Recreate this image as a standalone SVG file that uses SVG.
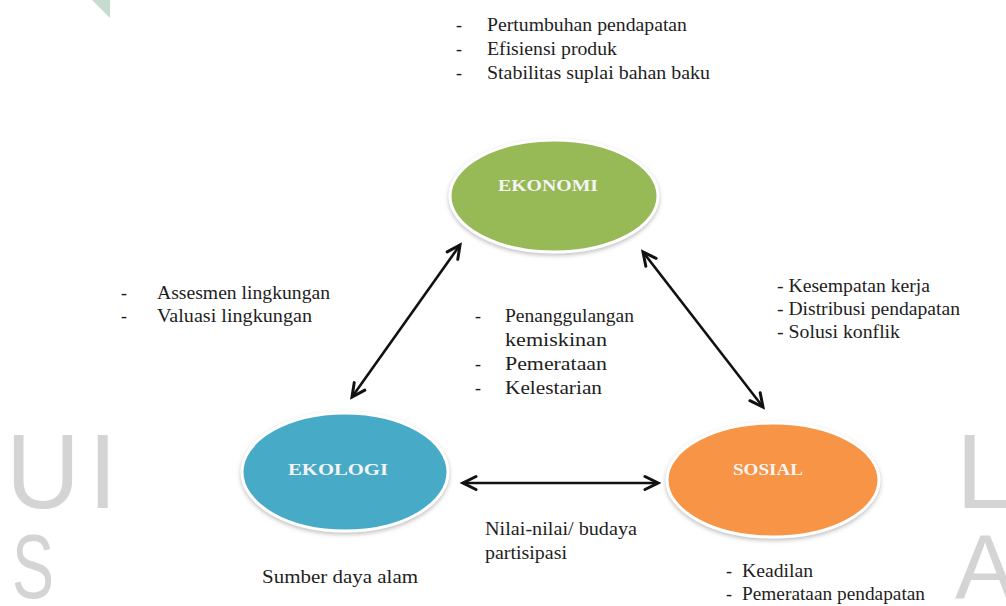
<svg xmlns="http://www.w3.org/2000/svg" width="1006" height="606" viewBox="0 0 1006 606">
  <style>
    .lbl { font-family: "Liberation Serif", "Times New Roman", serif; font-size: 18px; fill: #1e1e1e; }
    .node-text { font-family: "Liberation Serif", "Times New Roman", serif; font-size: 16px; font-weight: bold; fill: #f4f4f4; }
    .wm { font-family: "Liberation Sans", Arial, sans-serif; fill: #d4d4d4; }
    .conn { stroke: #111; stroke-width: 2.6; fill: none; marker-start: url(#arr); marker-end: url(#arr); }
    .ell { stroke: #ffffff; stroke-width: 3; filter: url(#shadow); }
  </style>
  <defs>
    <marker id="arr" markerUnits="userSpaceOnUse" viewBox="-15 -9 18 18" refX="0" refY="0" markerWidth="18" markerHeight="18" orient="auto-start-reverse">
      <path d="M-13,-6.5 L0,0 L-13,6.5" fill="none" stroke="#111" stroke-width="3" stroke-linejoin="miter" stroke-linecap="round"/>
    </marker>
    <filter id="shadow" x="-20%" y="-20%" width="140%" height="140%">
      <feDropShadow dx="0" dy="2" stdDeviation="2" flood-color="#8a8a8a" flood-opacity="0.55"/>
    </filter>
    <clipPath id="leftclip">
      <rect x="0" y="0" width="110" height="606"/>
    </clipPath>
  </defs>

  <rect x="0" y="0" width="1006" height="606" fill="#ffffff"/>

  <!-- watermark -->
  <g id="watermark">
    <polygon points="92,0 110,0 110,18" fill="#c6dccf"/>
    <g clip-path="url(#leftclip)">
      <text class="wm" x="6" y="508" font-size="106" textLength="74" lengthAdjust="spacingAndGlyphs">U</text>
      <text class="wm" x="88" y="508" font-size="106">I</text>
      <text class="wm" x="12" y="598" font-size="90" textLength="42" lengthAdjust="spacingAndGlyphs">S</text>
    </g>
    <text class="wm" x="956" y="508" font-size="106">L</text>
    <text class="wm" x="955" y="598" font-size="90">A</text>
  </g>

  <!-- connectors -->
  <g id="connectors">
    <line class="conn" x1="352" y1="397" x2="460" y2="245"/>
    <line class="conn" x1="643" y1="252" x2="763" y2="407"/>
    <line class="conn" x1="463" y1="483" x2="658" y2="483"/>
  </g>

  <!-- nodes -->
  <g id="node-ekonomi">
    <ellipse class="ell" cx="554" cy="196" rx="104" ry="56" fill="#97b956"/>
    <text class="node-text" x="498" y="191" textLength="100" lengthAdjust="spacingAndGlyphs">EKONOMI</text>
  </g>
  <g id="node-ekologi">
    <ellipse class="ell" cx="345" cy="472" rx="103" ry="59" fill="#47aac6"/>
    <text class="node-text" x="288" y="475" textLength="100" lengthAdjust="spacingAndGlyphs">EKOLOGI</text>
  </g>
  <g id="node-sosial">
    <ellipse class="ell" cx="773" cy="480" rx="106" ry="57" fill="#f79444"/>
    <text class="node-text" x="733" y="475" textLength="70" lengthAdjust="spacingAndGlyphs">SOSIAL</text>
  </g>

  <!-- labels -->
  <g id="label-ekonomi">
    <text class="lbl" x="456" y="31">-</text>
    <text class="lbl" x="487" y="31" textLength="200" lengthAdjust="spacingAndGlyphs">Pertumbuhan pendapatan</text>
    <text class="lbl" x="456" y="55">-</text>
    <text class="lbl" x="487" y="55" textLength="130" lengthAdjust="spacingAndGlyphs">Efisiensi produk</text>
    <text class="lbl" x="456" y="79">-</text>
    <text class="lbl" x="487" y="79" textLength="223" lengthAdjust="spacingAndGlyphs">Stabilitas suplai bahan baku</text>
  </g>
  <g id="label-ekologi-ekonomi">
    <text class="lbl" x="121" y="299">-</text>
    <text class="lbl" x="157" y="299" textLength="173" lengthAdjust="spacingAndGlyphs">Assesmen lingkungan</text>
    <text class="lbl" x="121" y="322">-</text>
    <text class="lbl" x="157" y="322" textLength="155" lengthAdjust="spacingAndGlyphs">Valuasi lingkungan</text>
  </g>
  <g id="label-center">
    <text class="lbl" x="475" y="322">-</text>
    <text class="lbl" x="505" y="322" textLength="129" lengthAdjust="spacingAndGlyphs">Penanggulangan</text>
    <text class="lbl" x="505" y="346" textLength="102" lengthAdjust="spacingAndGlyphs">kemiskinan</text>
    <text class="lbl" x="475" y="370">-</text>
    <text class="lbl" x="505" y="370" textLength="102" lengthAdjust="spacingAndGlyphs">Pemerataan</text>
    <text class="lbl" x="475" y="394">-</text>
    <text class="lbl" x="505" y="394" textLength="97" lengthAdjust="spacingAndGlyphs">Kelestarian</text>
  </g>
  <g id="label-ekonomi-sosial">
    <text class="lbl" x="777" y="292" textLength="153" lengthAdjust="spacingAndGlyphs">- Kesempatan kerja</text>
    <text class="lbl" x="777" y="315" textLength="183" lengthAdjust="spacingAndGlyphs">- Distribusi pendapatan</text>
    <text class="lbl" x="777" y="338" textLength="123" lengthAdjust="spacingAndGlyphs">- Solusi konflik</text>
  </g>
  <g id="label-ekologi">
    <text class="lbl" x="262" y="583" textLength="156" lengthAdjust="spacingAndGlyphs">Sumber daya alam</text>
  </g>
  <g id="label-ekologi-sosial">
    <text class="lbl" x="485" y="535" textLength="152" lengthAdjust="spacingAndGlyphs">Nilai-nilai/  budaya</text>
    <text class="lbl" x="485" y="559" textLength="82" lengthAdjust="spacingAndGlyphs">partisipasi</text>
  </g>
  <g id="label-sosial">
    <text class="lbl" x="726" y="577">-</text>
    <text class="lbl" x="742" y="577" textLength="71" lengthAdjust="spacingAndGlyphs">Keadilan</text>
    <text class="lbl" x="726" y="600">-</text>
    <text class="lbl" x="742" y="600" textLength="183" lengthAdjust="spacingAndGlyphs">Pemerataan pendapatan</text>
  </g>
</svg>
